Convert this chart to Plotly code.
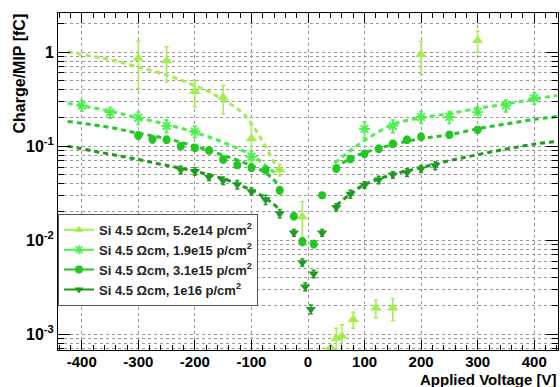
import plotly.graph_objects as go

# ---------------- data ----------------
names = ["Si 4.5 \u03a9cm, 5.2e14 p/cm<sup>2</sup>",
         "Si 4.5 \u03a9cm, 1.9e15 p/cm<sup>2</sup>",
         "Si 4.5 \u03a9cm, 3.1e15 p/cm<sup>2</sup>",
         "Si 4.5 \u03a9cm, 1e16 p/cm<sup>2</sup>"]

V1 = [-300, -250, -200, -150, -100, -50, -10, 40, 50, 60, 80, 120, 150, 200, 300]
Q1 = [0.86, 0.81, 0.38, 0.33, 0.12, 0.056, 0.0178, 7.2e-4, 9.1e-4, 9.6e-4, 1.44e-3, 1.9e-3, 1.9e-3, 0.94, 1.33]
E1 = [0.45, 0.33, 0.12, 0.11, 0.05, 0.008, 0.008, 0.0, 2.5e-4, 3e-4, 2.8e-4, 4e-4, 5e-4, 0.36, 0.33]

V2 = [-400, -350, -300, -250, -200, -100, 100, 150, 200, 250, 300, 350, 400]
Q2 = [0.27, 0.228, 0.2, 0.164, 0.143, 0.077, 0.152, 0.164, 0.204, 0.204, 0.23, 0.27, 0.324]
E2 = [0.035, 0.03, 0.03, 0.025, 0.02, 0.012, 0.03, 0.025, 0.03, 0.03, 0.03, 0.04, 0.045]

V3 = [-300, -275, -250, -225, -200, -175, -150, -125, -100, -75, -50, -25, -10, 10, 25,
      50, 75, 100, 125, 150, 175, 200, 250, 300]
Q3 = [0.13, 0.118, 0.117, 0.1, 0.096, 0.09, 0.072, 0.063, 0.059, 0.056, 0.034, 0.018, 0.0097, 0.0091, 0.030,
      0.058, 0.073, 0.083, 0.094, 0.106, 0.117, 0.126, 0.132, 0.149]
E3 = [0.011, 0.01, 0.01, 0.008, 0.008, 0.007, 0.006, 0.005, 0.005, 0.004, 0.003, 0.0015, 0.0009, 0.0008, 0.002,
      0.005, 0.006, 0.007, 0.008, 0.009, 0.01, 0.011, 0.011, 0.012]

V4 = [-225, -200, -175, -150, -125, -100, -75, -50, -25, -10, -5, 5, 10, 25,
      50, 75, 100, 125, 150, 175, 200, 225]
Q4 = [0.056, 0.054, 0.047, 0.043, 0.039, 0.033, 0.027, 0.0192, 0.012, 0.0058, 0.0032, 0.00185, 0.0044, 0.012,
      0.0224, 0.031, 0.0387, 0.0438, 0.0495, 0.0525, 0.0574, 0.0622]
E4 = [0.005, 0.005, 0.004, 0.004, 0.004, 0.003, 0.003, 0.002, 0.001, 0.0005, 0.0003, 0.0002, 0.0004, 0.001,
      0.002, 0.003, 0.003, 0.004, 0.004, 0.005, 0.005, 0.006]

# fit curves
F1V = [-425, -350, -300, -250, -200, -175, -150, -125, -103, -53]
F1Q = [1.0, 0.83, 0.69, 0.57, 0.44, 0.38, 0.31, 0.25, 0.185, 0.056]

F2LV = [-425, -350, -300, -250, -200, -150, -100, -75, -55]
F2LQ = [0.286, 0.235, 0.2, 0.17, 0.14, 0.11, 0.08, 0.062, 0.05]
F2RV = [47, 75, 100, 150, 200, 250, 300, 350, 400, 440]
F2RQ = [0.066, 0.09, 0.115, 0.17, 0.2, 0.222, 0.252, 0.28, 0.316, 0.345]

F3LV = [-425, -350, -300, -250, -200, -150, -100, -75, -50]
F3LQ = [0.183, 0.158, 0.137, 0.12, 0.1, 0.08, 0.062, 0.052, 0.038]
F3RV = [47, 75, 100, 150, 200, 250, 300, 350, 400, 440]
F3RQ = [0.058, 0.074, 0.085, 0.104, 0.12, 0.132, 0.153, 0.172, 0.192, 0.206]

F4LV = [-425, -350, -300, -254, -200, -150, -100, -75, -53]
F4LQ = [0.10, 0.082, 0.072, 0.063, 0.054, 0.045, 0.034, 0.028, 0.022]
F4RV = [50, 75, 100, 150, 200, 250, 300, 350, 400, 440]
F4RQ = [0.0235, 0.031, 0.039, 0.05, 0.059, 0.07, 0.081, 0.093, 0.105, 0.112]

y_tickvals = [1e-3, 1e-2, 1e-1, 1]
y_ticktext = ["10<sup>-3</sup>", "10<sup>-2</sup>", "10<sup>-1</sup>", "1"]
x_tickvals = [-400, -300, -200, -100, 0, 100, 200, 300, 400]
x_ticktext = ["-400", "-300", "-200", "-100", "0", "100", "200", "300", "400"]

# ---------------- styling ----------------
colors = ["#a2ee4c", "#4cf04c", "#22c822", "#1e9a1e"]
symbols = ["triangle-up", "asterisk-open", "circle", "triangle-down"]
msizes = [10, 9, 8, 9]
FONT = "Liberation Sans, Arial, sans-serif"

fig = go.Figure()

fits = [[(F1V, F1Q)], [(F2LV, F2LQ), (F2RV, F2RQ)], [(F3LV, F3LQ), (F3RV, F3RQ)], [(F4LV, F4LQ), (F4RV, F4RQ)]]
for i, segs in enumerate(fits):
    for fx, fy in segs:
        fig.add_trace(go.Scatter(x=fx, y=fy, mode="lines", showlegend=False, hoverinfo="skip",
                                 line=dict(color=colors[i], width=3, dash="5px,4px", shape="spline")))

data = [(V1, Q1, E1), (V2, Q2, E2), (V3, Q3, E3), (V4, Q4, E4)]
for i, (vx, qy, ey) in enumerate(data):
    mk = dict(symbol=symbols[i], size=msizes[i], color=colors[i])
    if symbols[i] == "asterisk-open":
        mk["line"] = dict(color=colors[i], width=1.8)
    else:
        mk["line"] = dict(width=0)
    fig.add_trace(go.Scatter(x=vx, y=qy, mode="markers", showlegend=False, marker=mk,
                             error_y=dict(type="data", array=ey, visible=True, color=colors[i],
                                          thickness=1.5, width=2)))

# legend entries
for i in range(4):
    mk = dict(symbol=symbols[i], size=8, color=colors[i])
    if symbols[i] == "asterisk-open":
        mk["line"] = dict(color=colors[i], width=1.5)
    fig.add_trace(go.Scatter(x=[None], y=[None], mode="lines+markers", name=names[i],
                             line=dict(color=colors[i], width=2), marker=mk))

grid = dict(showgrid=True, gridcolor="#9a9a9a", griddash="dot", gridwidth=1)

fig.update_xaxes(range=[-442, 442], tickmode="array", tickvals=x_tickvals, ticktext=x_ticktext,
                 ticks="inside", ticklen=10, tickwidth=1, tickcolor="black", ticklabelstandoff=-2,
                 showline=True, linecolor="black", linewidth=1, mirror="ticks", zeroline=False,
                 tickfont=dict(family=FONT, size=15, color="black", weight="bold"),
                 minor=dict(dtick=20, tick0=0, ticks="inside", ticklen=5, tickcolor="black", showgrid=False),
                 **grid)

minor_y = [m * 10 ** e for e in range(-4, 1) for m in range(2, 10)]
fig.update_yaxes(type="log", range=[-3.167, 0.415], tickmode="array", tickvals=y_tickvals, ticktext=y_ticktext,
                 ticks="inside", ticklen=12, tickwidth=1, tickcolor="black",
                 showline=True, linecolor="black", linewidth=1, mirror="ticks", zeroline=False,
                 tickfont=dict(family=FONT, size=16, color="black", weight="bold"),
                 minor=dict(tickmode="array", tickvals=minor_y, ticks="inside", ticklen=6, tickcolor="black",
                            showgrid=True, gridcolor="#9a9a9a", griddash="dot"),
                 **grid)

fig.add_annotation(text="Charge/MIP [fC]", xref="paper", yref="paper", x=-0.077, y=1.003,
                   xanchor="center", yanchor="top", textangle=-90, showarrow=False,
                   font=dict(family=FONT, size=16, color="black", weight="bold"))
fig.add_annotation(text="Applied Voltage [V]", xref="paper", yref="paper", x=1.0, y=-0.056,
                   xanchor="right", yanchor="top", showarrow=False,
                   font=dict(family=FONT, size=15, color="black", weight="bold"))

fig.update_layout(width=560, height=387, margin=dict(l=58, r=2, t=13, b=37),
                  paper_bgcolor="white", plot_bgcolor="white",
                  legend=dict(x=0.0, y=0.404, xanchor="left", yanchor="top", bgcolor="white",
                              bordercolor="#555555", borderwidth=1, tracegroupgap=0,
                              font=dict(family=FONT, size=13, color="#222222", weight="bold")),
                  showlegend=True)

fig.write_html("out.html")
